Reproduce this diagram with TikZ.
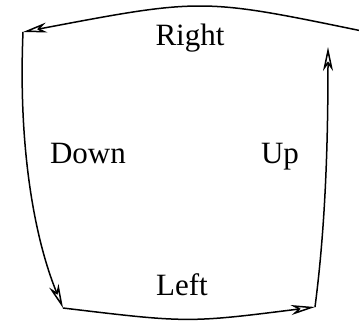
\documentclass[tikz,border=0pt]{standalone}
\usepackage{fontspec}
\setmainfont{Liberation Serif}
\usetikzlibrary{arrows.meta}

\begin{document}
\begin{tikzpicture}[x=1pt, y=-1pt,
    dirlabel/.style={anchor=base, inner sep=0pt, font=\fontsize{31}{37}\selectfont},
    turn/.style={line width=1.5pt, -{Stealth[open, length=24pt, width=10pt, inset=7pt]}}
  ]
  \clip (0,0) rectangle (359,322);

  % corners of the loop
  \coordinate (topright) at (362,31);
  \coordinate (topleft) at (23,32);
  \coordinate (botleft) at (63,308);
  \coordinate (botright) at (315,307);
  \coordinate (rightend) at (328,47);

  \node[dirlabel] (right) at (190,45) {Right};
  \node[dirlabel] (down) at (88,163) {Down};
  \node[dirlabel] (up) at (280,163) {Up};
  \node[dirlabel] (left) at (182,295) {Left};

  \draw[turn] (topright) .. controls (202,-2) .. (topleft);
  \draw[turn] (topleft) .. controls (18,150) and (35,240) .. (botleft);
  \draw[turn] (botleft) .. controls (188,323) .. (botright);
  \draw[turn] (botright) .. controls (325,230) and (328,150) .. (rightend);
\end{tikzpicture}
\end{document}
